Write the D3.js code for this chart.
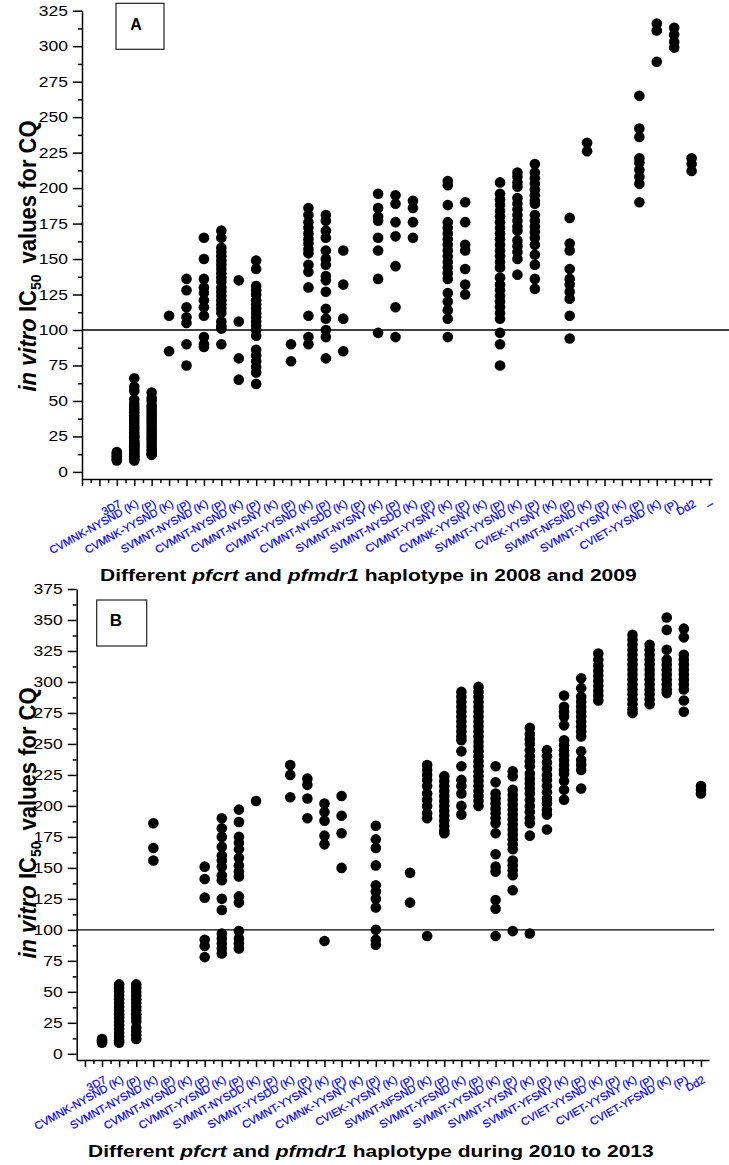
<!DOCTYPE html>
<html>
<head>
<meta charset="utf-8">
<script src="https://cdn.jsdelivr.net/npm/d3@7"></script>
<style>
  body { margin: 0; background: #fff; }
  svg { display: block; }
  text { font-family: "Liberation Sans", Arial, sans-serif; }
</style>
</head>
<body>
<div id="chart"></div>
<script>
// ---- data ----
const HAPLO_A = ["CVMNK-NYSND", "CVMNK-YYSND", "SVMNT-NYSND", "CVMNT-NYSND", "CVMNT-NYSNY",
  "CVMNT-YYSND", "CVMNT-NYSDD", "SVMNT-NYSNY", "SVMNT-NYSDD", "CVMNT-YYSNY", "CVMNK-YYSNY",
  "SVMNT-YYSND", "CVIEK-YYSNY", "SVMNT-NFSND", "SVMNT-YYSNY", "CVIET-YYSND"];
const HAPLO_B = ["CVMNK-NYSND", "SVMNT-NYSND", "CVMNT-NYSND", "CVMNT-YYSND", "SVMNT-NYSDD",
  "SVMNT-YYSDD", "CVMNT-YYSNY", "CVMNK-YYSNY", "CVIEK-YYSNY", "SVMNT-NFSND", "SVMNT-YFSND",
  "SVMNT-YYSND", "SVMNT-YYSNY", "SVMNT-YFSNY", "CVIET-YYSND", "CVIET-YYSNY", "CVIET-YFSND"];

// tick labels: reference strain, then "<haplotype> (K)", "(P)" pairs, then Dd2
const CATS_A = ["3D7", ...HAPLO_A.flatMap(h => [h + " (K)", "(P)"]), "Dd2", "\u2013"];
const CATS_B = ["3D7", ...HAPLO_B.flatMap(h => [h + " (K)", "(P)"]), "Dd2"];

// IC50 values (nM) per tick, same order as CATS_A
const VALUES_A = [
  [14, 13, 12, 11, 10, 9, 8],
  [66, 60, 57, 51, 48, 46, 44, 42, 40, 38, 36, 34, 32, 30, 28, 26, 25, 24, 22, 21, 20, 19, 18, 17, 16, 15, 14, 13, 12, 11, 10, 9, 8],
  [56, 52, 50, 47, 45, 43, 41, 39, 37, 35, 33, 31, 29, 27, 25, 23, 21, 19, 17, 15, 13, 12],
  [110, 85],
  [136, 128, 116, 109, 105, 90, 75],
  [165, 150, 136, 130, 126, 121, 116, 110, 95, 90, 88],
  [170, 165, 158, 155, 152, 149, 146, 143, 140, 137, 134, 130, 127, 124, 121, 118, 115, 112, 106, 103, 101, 90],
  [135, 106, 80, 65],
  [149, 143, 131, 128, 125, 121, 118, 115, 112, 109, 106, 103, 100, 96, 86, 82, 78, 74, 70, 62],
  [],
  [90, 78],
  [186, 181, 176, 172, 168, 164, 161, 157, 154, 146, 141, 130, 110, 95, 90],
  [181, 177, 170, 165, 156, 150, 146, 138, 135, 127, 115, 108, 100, 95, 80],
  [156, 132, 108, 85],
  [],
  [196, 186, 180, 177, 165, 156, 136, 98],
  [195, 189, 176, 166, 145, 116, 95],
  [191, 186, 176, 165],
  [],
  [205, 202, 188, 176, 172, 168, 164, 160, 156, 152, 148, 144, 140, 136, 126, 120, 114, 108, 95],
  [190, 176, 160, 156, 143, 132, 125],
  [],
  [204, 196, 192, 188, 184, 180, 176, 172, 168, 164, 160, 156, 152, 148, 144, 137, 132, 128, 124, 120, 116, 112, 108, 98, 90, 75],
  [211, 208, 204, 201, 193, 189, 185, 181, 177, 173, 170, 163, 159, 155, 150, 139],
  [217, 211, 207, 203, 199, 195, 191, 189, 181, 177, 173, 169, 165, 160, 153, 146, 136, 129],
  [],
  [179, 161, 156, 143, 136, 132, 127, 122, 110, 94],
  [232, 226],
  [],
  [],
  [265, 242, 236, 221, 218, 213, 208, 203, 190],
  [316, 311, 289],
  [313, 308, 303, 299],
  [221, 217, 212],
  []
];

// same order as CATS_B
const VALUES_B = [
  [12, 11, 10, 9],
  [56, 53, 50, 47, 44, 41, 38, 35, 32, 29, 26, 23, 20, 17, 14, 11, 9],
  [56, 53, 50, 47, 44, 41, 38, 35, 32, 29, 26, 21, 18, 15, 12],
  [186, 166, 156],
  [],
  [],
  [151, 141, 126, 92, 87, 78],
  [190, 182, 175, 167, 160, 156, 151, 144, 140, 125, 116, 97, 93, 89, 85, 81],
  [197, 187, 175, 170, 165, 158, 152, 147, 143, 127, 122, 99, 93, 89, 85],
  [204],
  [],
  [233, 225, 207],
  [222, 217, 206, 190],
  [202, 195, 188, 176, 169, 91],
  [208, 192, 178, 150],
  [],
  [184, 173, 166, 152, 136, 131, 125, 118, 100, 92, 88],
  [],
  [146, 122],
  [233, 229, 225, 221, 216, 210, 205, 200, 194, 190, 95],
  [224, 220, 216, 212, 208, 204, 200, 196, 192, 188, 184, 180, 178],
  [292, 288, 284, 280, 276, 272, 268, 264, 260, 256, 253, 244, 232, 221, 216, 210, 200, 193],
  [296, 292, 288, 284, 280, 276, 272, 268, 264, 260, 256, 252, 248, 244, 240, 236, 232, 228, 224, 220, 216, 212, 208, 204, 200],
  [232, 219, 210, 206, 202, 198, 194, 190, 186, 178, 161, 151, 147, 124, 117, 95],
  [228, 224, 213, 209, 205, 201, 197, 193, 189, 185, 181, 177, 173, 169, 165, 156, 152, 148, 144, 132, 99],
  [263, 258, 254, 250, 245, 240, 236, 232, 226, 222, 218, 214, 210, 205, 200, 195, 190, 186, 176, 97],
  [245, 240, 235, 230, 225, 221, 216, 211, 206, 202, 197, 193, 181],
  [289, 280, 276, 272, 265, 253, 249, 245, 241, 237, 233, 229, 226, 220, 213, 205],
  [303, 295, 288, 284, 280, 276, 272, 268, 264, 260, 256, 244, 237, 233, 229, 214],
  [323, 318, 313, 309, 305, 301, 297, 293, 289, 285],
  [],
  [338, 334, 330, 326, 322, 318, 314, 310, 306, 302, 298, 294, 290, 286, 282, 278, 275],
  [330, 326, 322, 318, 314, 310, 306, 302, 298, 294, 290, 286, 282],
  [352, 342, 326, 318, 314, 310, 306, 302, 298, 294, 291],
  [343, 336, 322, 318, 314, 310, 306, 302, 298, 294, 285, 276],
  [216, 213, 210]
];

const Y_TICKS_A = d3.range(0, 326, 25);
const Y_TICKS_B = d3.range(0, 376, 25);
const CUTOFF = 100;
const TITLE_A = ["Different ", "pfcrt", " and ", "pfmdr1", " haplotype in 2008 and 2009"];
const TITLE_B = ["Different ", "pfcrt", " and ", "pfmdr1", " haplotype during 2010 to 2013"];

// ---- layout ----
const WIDTH = 729, HEIGHT = 1165;
const STRETCH = 1.25;   // the original figure's tick numbers are widened horizontally
const DOT_R = 5.3;

const PANELS = [
  { letter: "A", cats: CATS_A, values: VALUES_A, yTicks: Y_TICKS_A, title: TITLE_A,
    left: 82, right: 712, top: 10.7, bottom: 479, xPad: [-2, 0.17], refEnd: 729,
    box: { x: 116, y: 3.3, w: 48, h: 46, tx: 136, ty: 29.5, size: 16 },
    xTitle: [100, 581], yTitleCy: 256, labelDy: 27 },
  { letter: "B", cats: CATS_B, values: VALUES_B, yTicks: Y_TICKS_B, title: TITLE_B,
    left: 76.7, right: 709, top: 589, bottom: 1060, xPad: [-1.48, 0.47], refEnd: 714,
    box: { x: 96.7, y: 600, w: 50, h: 46, tx: 116, ty: 625.5, size: 17 },
    xTitle: [88, 1157], yTitleCy: 823, labelDy: 22 }
];

const svg = d3.select("#chart").append("svg")
  .attr("width", WIDTH)
  .attr("height", HEIGHT);

let titleScale = null;

PANELS.forEach(p => {
  const n = p.cats.length;
  const yMax = d3.max(p.yTicks);
  const x = d3.scaleLinear()
    .domain([p.xPad[0], n - 1 + p.xPad[1]])
    .range([p.left, p.right]);
  const y = d3.scaleLinear()
    .domain([-5, yMax])
    .range([p.bottom, p.top]);

  const g = svg.append("g").attr("class", "panel-" + p.letter);

  // cutoff line
  g.append("line")
    .attr("x1", p.left).attr("x2", p.refEnd)
    .attr("y1", y(CUTOFF)).attr("y2", y(CUTOFF))
    .attr("stroke", "#000").attr("stroke-width", 1.3);

  // y axis, major + minor
  const yAxis = g.append("g")
    .attr("transform", `translate(${p.left},0)`)
    .call(d3.axisLeft(y).tickValues(p.yTicks).tickSize(9).tickSizeOuter(0));
  yAxis.selectAll(".tick text")
    .attr("x", null)
    .attr("transform", `translate(-14,0) scale(${STRETCH},1)`)
    .attr("font-size", 14)
    .attr("font-family", "Liberation Sans, Arial, sans-serif")
    .attr("fill", "#000");
  g.append("g")
    .attr("transform", `translate(${p.left},0)`)
    .call(d3.axisLeft(y).tickValues(p.yTicks.slice(0, -1).map(v => v + 12.5)).tickSize(4).tickFormat(""))
    .select(".domain").remove();

  // x axis, ticks at each category and half-way between
  const majors = d3.range(Math.ceil(p.xPad[0]), n);
  const minors = majors.map(v => v + 0.5).filter(v => v <= n - 1 + p.xPad[1]);
  g.append("g")
    .attr("transform", `translate(0,${p.bottom})`)
    .call(d3.axisBottom(x).tickValues(majors).tickSize(7).tickSizeOuter(0).tickFormat(""));
  g.append("g")
    .attr("transform", `translate(0,${p.bottom})`)
    .call(d3.axisBottom(x).tickValues(minors).tickSize(4).tickFormat(""))
    .select(".domain").remove();

  g.selectAll(".domain, .tick line").attr("stroke", "#000").attr("stroke-width", 1.5);

  // category labels
  g.selectAll("text.cat")
    .data(p.cats)
    .join("text")
    .attr("class", "cat")
    .attr("transform", (d, i) => `translate(${x(i) + 5},${p.bottom + p.labelDy}) rotate(-29)`)
    .attr("text-anchor", "end")
    .attr("font-size", 11)
    .attr("fill", "#0000ff")
    .attr("stroke", "#0000ff")
    .attr("stroke-width", 0.25)
    .text(d => d);

  // dots
  const pts = p.values.flatMap((vals, i) => vals.map(v => ({ i, v })));
  g.selectAll("circle.dot")
    .data(pts)
    .join("circle")
    .attr("class", "dot")
    .attr("cx", d => x(d.i))
    .attr("cy", d => y(d.v))
    .attr("r", DOT_R)
    .attr("fill", "#000");

  // panel letter box
  g.append("rect")
    .attr("x", p.box.x).attr("y", p.box.y)
    .attr("width", p.box.w).attr("height", p.box.h)
    .attr("fill", "none").attr("stroke", "#222").attr("stroke-width", 1.2);
  g.append("text")
    .attr("x", p.box.tx).attr("y", p.box.ty)
    .attr("text-anchor", "middle")
    .attr("font-family", "Liberation Serif, Times New Roman, serif")
    .attr("font-weight", "bold")
    .attr("font-size", p.box.size)
    .text(p.letter);

  // x title
  const xt = g.append("text")
    .attr("font-weight", "bold")
    .attr("font-size", 17);
  xt.selectAll("tspan")
    .data(p.title)
    .join("tspan")
    .attr("font-style", (d, i) => i % 2 === 1 ? "italic" : null)
    .text(d => d);
  if (titleScale === null) {
    titleScale = 537 / xt.node().getComputedTextLength();
  }
  xt.attr("transform", `translate(${p.xTitle[0]},${p.xTitle[1]}) scale(${titleScale},1)`);

  // y title
  const yt = g.append("text")
    .attr("transform", `translate(36,${p.yTitleCy}) scale(1.05,1) rotate(-90)`)
    .attr("text-anchor", "middle")
    .attr("font-weight", "bold")
    .attr("font-size", 22);
  yt.append("tspan").attr("font-style", "italic").text("in vitro");
  yt.append("tspan").text(" IC");
  yt.append("tspan").attr("font-size", 14).attr("dy", 5).text("50");
  yt.append("tspan").attr("dy", -5).attr("dx", 5).text(" values for CQ");
});
</script>
</body>
</html>
